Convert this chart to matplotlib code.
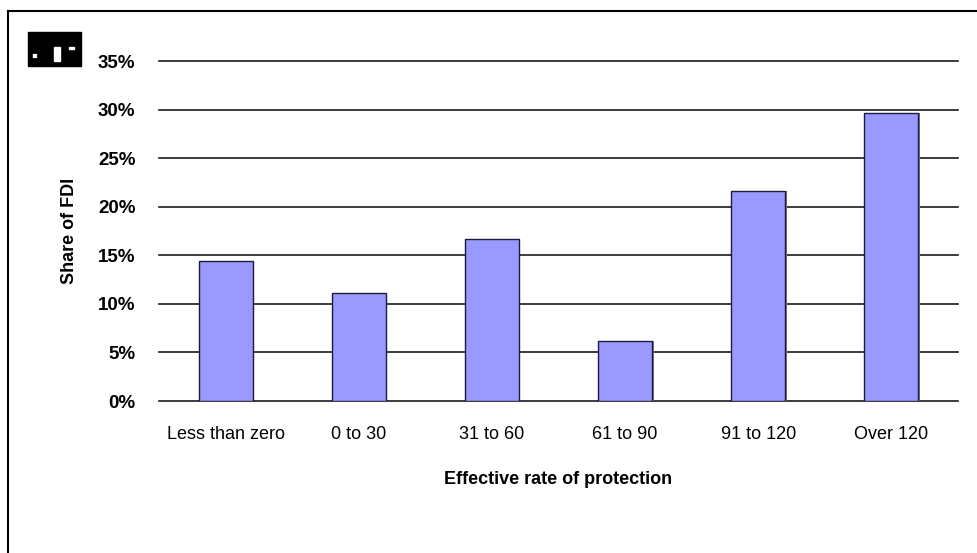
import matplotlib.pyplot as plt
from matplotlib.lines import Line2D
from matplotlib.patches import Rectangle
from matplotlib import font_manager

categories = ["Less than zero", "0 to 30", "31 to 60", "61 to 90", "91 to 120", "Over 120"]
shares = [14.4, 11.1, 16.7, 6.2, 21.6, 29.6]
yticks = [0, 5, 10, 15, 20, 25, 30, 35]
ytick_labels = ["0%", "5%", "10%", "15%", "20%", "25%", "30%", "35%"]

names = {f.name for f in font_manager.fontManager.ttflist}
font = "Liberation Sans Narrow" if "Liberation Sans Narrow" in names else "Liberation Sans"
plt.rcParams["font.family"] = [font, "DejaVu Sans"]

fig = plt.figure(figsize=(9.78, 5.53), dpi=100)
ax = fig.add_axes([159 / 978, 152 / 553, 799 / 978, 340 / 553])

x = list(range(len(categories)))
for y in yticks:
    ax.axhline(y, color="#1a1a1a", lw=1.2, zorder=0, clip_on=False)

# little shadow at the right of each bar
ax.bar([i + 0.012 for i in x], shares, width=0.405, color="#777799", zorder=1)
ax.bar(x, shares, width=0.405, color="#9999ff", edgecolor="#1a1a3a", lw=1.0, zorder=2)

ax.set_xlim(-0.5, len(categories) - 0.5)
ax.set_ylim(0, 35)
ax.set_yticks(yticks)
ax.set_yticklabels(ytick_labels, fontsize=13.5, fontweight="bold")
ax.set_xticks(x)
ax.set_xticklabels(categories, fontsize=13)
ax.tick_params(axis="y", length=0, pad=17)
ax.tick_params(axis="x", length=0, pad=18)
for s in ax.spines.values():
    s.set_visible(False)

ax.set_xlabel("Effective rate of protection", fontsize=13, fontweight="bold", labelpad=20)
ax.set_ylabel("Share of FDI", fontsize=13, fontweight="bold", labelpad=14)

# outer frame (left and top edges)
fig.add_artist(Line2D([8 / 978, 8 / 978], [0, 1 - 11 / 553], color="black", lw=1.5))
fig.add_artist(Line2D([8 / 978, 1], [1 - 11 / 553, 1 - 11 / 553], color="black", lw=1.5))

# black badge with white marks, top-left
fig.add_artist(Rectangle((28 / 978, 1 - 66 / 553), 53 / 978, 34 / 553, color="black",
                         transform=fig.transFigure))
fig.add_artist(Rectangle((33 / 978, 1 - 57 / 553), 3 / 978, 3 / 553, color="white",
                         transform=fig.transFigure))
fig.add_artist(Rectangle((54 / 978, 1 - 61 / 553), 6 / 978, 14 / 553, color="white",
                         transform=fig.transFigure))
fig.add_artist(Rectangle((69 / 978, 1 - 49 / 553), 5 / 978, 2 / 553, color="white",
                         transform=fig.transFigure))

fig.savefig("out.png", dpi=100)
